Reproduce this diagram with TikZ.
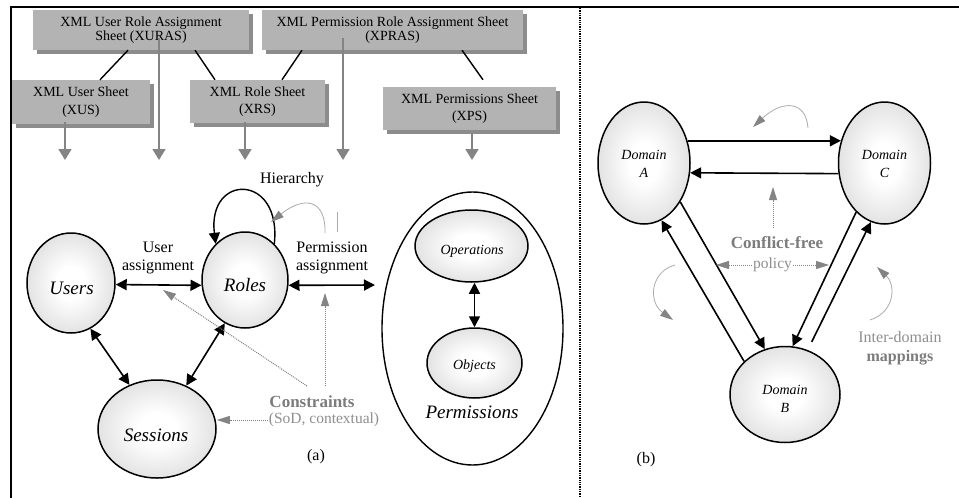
\documentclass[tikz,border=0pt]{standalone}
\usepackage{fontspec}
\setmainfont{Liberation Serif}
\usetikzlibrary{arrows.meta,shapes.geometric,shadows,calc}

\definecolor{sheetfill}{HTML}{B3B3B3}
\definecolor{sheetshadow}{HTML}{8C8C8C}
\definecolor{feedgray}{HTML}{848484}
\definecolor{notegray}{HTML}{7C7C7C}
\definecolor{softgray}{HTML}{8E8E8E}
\definecolor{curvegray}{HTML}{ABABAB}

% soft white-to-grey fill of the round entities
\pgfdeclareradialshading{bubble}{\pgfpoint{0bp}{0bp}}{color(0bp)=(white); color(8bp)=(white); color(28bp)=(black!13); color(48bp)=(black!33); color(75bp)=(black!33)}

\begin{document}
\begin{tikzpicture}[x=1pt,y=-1pt,
  every node/.style={inner sep=1pt},
  sheet/.style={rectangle, fill=sheetfill, inner sep=0pt, align=center,
    drop shadow={shadow xshift=4pt, shadow yshift=-4pt, fill=sheetshadow, opacity=1}},
  topsheet/.style={sheet, font=\fontsize{14}{14.5}\selectfont, minimum height=40pt},
  lowsheet/.style={sheet, font=\fontsize{14}{17.5}\selectfont, minimum height=43pt},
  bubble/.style={ellipse, draw, line width=1.5pt, shading=bubble, inner sep=0pt},
  bigname/.style={font=\itshape\fontsize{19}{19}\selectfont},
  smallname/.style={font=\itshape\fontsize{14}{18}\selectfont, align=center},
  caption/.style={font=\fontsize{16}{18}\selectfont, align=center},
  note/.style={font=\bfseries\fontsize{17}{17}\selectfont, text=notegray},
  softnote/.style={font=\fontsize{15.5}{18}\selectfont, text=softgray},
  sheetlink/.style={line width=1.4pt},
  twoway/.style={line width=1.6pt, {Triangle[length=11pt,width=11pt]}-{Triangle[length=11pt,width=11pt]}},
  oneway/.style={line width=1.6pt, -{Triangle[length=11pt,width=11pt]}},
  feed/.style={draw=feedgray, line width=1.8pt, -{Triangle[length=11pt,width=13pt]}},
  hint/.style={draw=feedgray, line width=1pt, densely dotted, -{Triangle[length=13pt,width=8pt]}},
  nudge/.style={draw=curvegray, line width=0.8pt, -{Triangle[length=13pt,width=8pt,color=feedgray]}},
]
\useasboundingbox (0,0) rectangle (959,498);

% frame and panel separator
\draw[line width=2pt] (11,498) -- (11,7) -- (959,7);
\draw[line width=1.3pt, densely dotted] (580,8) -- (580,498);

% ---------- (a) XML sheets ----------
\node[topsheet, minimum width=216pt] (xuras) at (141,30) {XML User Role Assignment\\Sheet (XURAS)};
\node[topsheet, minimum width=261pt] (xpras) at (392.5,30) {XML Permission Role Assignment Sheet\\(XPRAS)};
\node[lowsheet, minimum width=138pt, minimum height=44pt] (xus) at (81,102) {XML User Sheet\\(XUS)};
\node[lowsheet, minimum width=135pt] (xrs) at (257.5,101.5) {XML Role Sheet\\(XRS)};
\node[lowsheet, minimum width=173pt] (xps) at (469.5,108.5) {XML Permissions Sheet\\(XPS)};

\draw[sheetlink] ([xshift=-13pt]xuras.south) -- ([xshift=19pt]xus.north);
\draw[sheetlink] ([xshift=54pt]xuras.south) -- ([xshift=-42.5pt]xrs.north);
\draw[sheetlink] ([xshift=-90.5pt]xpras.south) -- ([xshift=24.5pt]xrs.north);
\draw[sheetlink] ([xshift=69.5pt]xpras.south) -- ([xshift=13.5pt,yshift=7pt]xps.north);

\coordinate (f1) at (65,160);
\coordinate (f2) at (159,160);
\coordinate (f3) at (245,160);
\coordinate (f4) at (343,160);
\coordinate (f5) at (472,160);
\draw[feed] ($(xus.south -| f1)+(0,-2)$) -- (f1);
\draw[feed] ($(xuras.south -| f2)+(0,-12)$) -- (f2);
\draw[feed] ($(xrs.south -| f3)+(0,-1)$) -- (f3);
\draw[feed] ($(xpras.south -| f4)+(0,-12)$) -- (f4);
\draw[feed] ($(xps.south -| f5)+(0,3)$) -- (f5);

% ---------- (a) RBAC model ----------
\node[bubble, minimum width=88pt, minimum height=100pt] (users) at (71,283) {};
\node[bubble, minimum width=86pt, minimum height=96pt] (roles) at (245,280) {};
\node[bubble, minimum width=118pt, minimum height=98pt] (sessions) at (157,429) {};
\node[bigname] (userslbl) at (71.5,288) {Users};
\node[bigname] (roleslbl) at (245,285) {Roles};
\node[bigname] (sessionslbl) at (156,435) {Sessions};

\node[ellipse, draw, line width=1.4pt, minimum width=181pt, minimum height=273pt] (perms) at (472.5,328.5) {};
\node[bubble, minimum width=113pt, minimum height=72pt] (ops) at (471.5,246) {};
\node[bubble, minimum width=95pt, minimum height=70pt] (objs) at (474.5,363) {};
\node[font=\itshape\fontsize{14}{14}\selectfont] (opslbl) at (472,251) {Operations};
\node[font=\itshape\fontsize{14}{14}\selectfont] (objslbl) at (474.5,366) {Objects};
\node[bigname] (permslbl) at (472,412) {Permissions};

\coordinate (pa) at (375,285);
\draw[twoway] (users.-2) -- (roles.187);
\draw[twoway] (roles.-7) -- (pa);
\draw[twoway] (users.-67) -- (sessions.122.5);
\draw[twoway] (roles.-115.6) -- (sessions.56);
\draw[twoway] (ops.south -| objs.north) -- (objs.north);

% role hierarchy loop
\draw[oneway, line width=1.4pt] (roles.51) .. controls (282,173) and (207,173) .. (roles.129);
\node[caption] (hier) at (292,180) {Hierarchy};
\node[caption] (ualbl) at (158,258) {User\\assignment};
\node[caption] (palbl) at (332,258) {Permission\\assignment};

\coordinate (hs) at (325,233);
\coordinate (ht) at (271,222);
\draw[nudge] (hs) .. controls (326,200) and (305,195) .. (ht);
\coordinate (tk1) at (337,212);
\coordinate (tk2) at (337,232);
\draw[curvegray, line width=0.8pt] (tk1) -- (tk2);

% constraints
\node[note] (cons) at (312,402) {Constraints};
\node[softnote] (sod) at (324,420) {(SoD, contextual)};
\coordinate (cvs) at (325,386);
\coordinate (cv) at (325,293);
\draw[hint] (cvs) -- (cv);
\coordinate (cds) at (307,386);
\coordinate (cd) at (163,290);
\draw[hint] (cds) -- (cd);
\draw[hint] (sod.west) -- (sessions.east |- sod.west);

\node[caption] (taga) at (316,457) {(a)};

% ---------- (b) domains ----------
\node[bubble, minimum width=92pt, minimum height=122pt] (doma) at (644,163) {};
\node[bubble, minimum width=92pt, minimum height=122pt] (domc) at (884.5,163) {};
\node[bubble, minimum width=110pt, minimum height=96pt] (domb) at (785,394.5) {};
\node[smallname] (domalbl) at (644,164) {Domain\\A};
\node[smallname] (domclbl) at (884.5,164) {Domain\\C};
\node[smallname] (domblbl) at (785,398.5) {Domain\\B};

\draw[oneway] (doma.27) -- (domc.153);
\draw[oneway] (domc.-167.6) -- (doma.-12.4);
\draw[oneway] (domb.141.8) -- (doma.-73.6);
\draw[oneway] (doma.-47.3) -- (domb.114.2);
\draw[oneway] (domc.-120.8) -- (domb.81.9);
\draw[oneway, shorten <=9pt] (domb.63) -- (domc.-103.2);

\coordinate (t1) at (808,128);
\coordinate (t2) at (753,127);
\draw[nudge] (t1) .. controls (806,100) and (782,100) .. (t2);
\coordinate (l1) at (675,265);
\coordinate (l2) at (673,320);
\draw[nudge] (l1) .. controls (650,272) and (648,302) .. (l2);
\coordinate (r1) at (870,320);
\coordinate (r2) at (877,267);
\draw[nudge] (r1) .. controls (895,312) and (896,285) .. (r2);

\node[note] (cf) at (777,243) {Conflict-free};
\coordinate (cfs) at (773,228);
\coordinate (cft) at (773,187);
\draw[hint] (cfs) -- (cft);
\node[softnote] (pol) at (772.5,265) {policy};
\coordinate (pl) at (716,265);
\coordinate (pr) at (829,265);
\draw[hint] (pol.west) -- (pl);
\draw[hint] (pol.east) -- (pr);

\node[align=center, font=\fontsize{16}{19}\selectfont, text=softgray] (idm) at (900,348.5) {Inter-domain\\\textbf{\color{notegray}mappings}};

\node[caption] (tagb) at (646,460) {(b)};
\end{tikzpicture}
\end{document}
